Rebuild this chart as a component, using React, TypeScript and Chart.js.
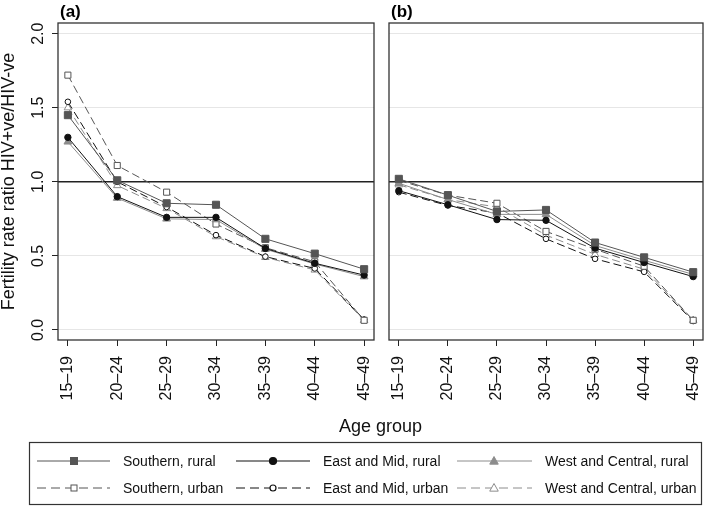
import React, { useEffect, useRef } from 'react';
import { Chart, registerables } from 'chart.js';

Chart.register(...registerables);

// ---------- data ----------
const ageGroups = ['15–19', '20–24', '25–29', '30–34', '35–39', '40–44', '45–49'];
const yTickValues = [0, 0.5, 1, 1.5, 2];
const referenceLine = 1;
const panelLabels = ['(a)', '(b)'];
const yAxisTitle = 'Fertility rate ratio HIV+ve/HIV-ve';
const xAxisTitle = 'Age group';

const seriesNames = [
  'Southern, rural',
  'East and Mid, rural',
  'West and Central, rural',
  'Southern, urban',
  'East and Mid, urban',
  'West and Central, urban',
];

// Panel (a)
const aSouthernRural = [1.45, 1.01, 0.855, 0.845, 0.615, 0.515, 0.41];
const aEastMidRural = [1.30, 0.90, 0.76, 0.76, 0.55, 0.45, 0.37];
const aWestCentralRural = [1.27, 0.89, 0.75, 0.745, 0.545, 0.445, 0.36];
const aSouthernUrban = [1.72, 1.11, 0.93, 0.715, 0.555, 0.46, 0.065];
const aEastMidUrban = [1.54, 1.0, 0.83, 0.64, 0.495, 0.415, 0.07];
const aWestCentralUrban = [1.5, 0.975, 0.82, 0.63, 0.49, 0.405, 0.065];

// Panel (b)
const bSouthernRural = [1.02, 0.91, 0.8, 0.81, 0.59, 0.49, 0.39];
const bEastMidRural = [0.94, 0.845, 0.745, 0.74, 0.552, 0.455, 0.36];
const bWestCentralRural = [0.99, 0.88, 0.78, 0.78, 0.57, 0.47, 0.375];
const bSouthernUrban = [1.01, 0.91, 0.855, 0.665, 0.545, 0.43, 0.065];
const bEastMidUrban = [0.93, 0.84, 0.79, 0.615, 0.48, 0.392, 0.06];
const bWestCentralUrban = [0.98, 0.88, 0.83, 0.64, 0.51, 0.41, 0.065];

const panelASeries = [aSouthernRural, aEastMidRural, aWestCentralRural, aSouthernUrban, aEastMidUrban, aWestCentralUrban];
const panelBSeries = [bSouthernRural, bEastMidRural, bWestCentralRural, bSouthernUrban, bEastMidUrban, bWestCentralUrban];

// ---------- styles ----------
const FONT = "'Liberation Sans', Arial, Helvetica, sans-serif";
const styles = [
  { color: '#555555', shape: 'rect', filled: true, dash: [] as number[], radius: 5 },
  { color: '#111111', shape: 'circle', filled: true, dash: [] as number[], radius: 3.2 },
  { color: '#8c8c8c', shape: 'triangle', filled: true, dash: [] as number[], radius: 4.5 },
  { color: '#555555', shape: 'rect', filled: false, dash: [8, 4], radius: 4.3 },
  { color: '#111111', shape: 'circle', filled: false, dash: [8, 4], radius: 2.8 },
  { color: '#8c8c8c', shape: 'triangle', filled: false, dash: [8, 4], radius: 4.3 },
];

function makeDatasets(series: number[][]) {
  return series.map((vals, i) => {
    const s = styles[i];
    return {
      label: seriesNames[i],
      data: vals.map((v, k) => ({ x: k, y: v })),
      borderColor: s.color,
      borderWidth: 1,
      borderDash: s.dash,
      pointStyle: s.shape,
      pointRadius: s.radius,
      pointBackgroundColor: s.filled ? s.color : '#ffffff',
      pointBorderColor: s.color,
      pointBorderWidth: 1,
      tension: 0,
      fill: false,
    };
  });
}

function panelPlugin(label: string) {
  return {
    id: 'panelDecor',
    beforeDatasetsDraw(chart: any) {
      const { ctx, chartArea, scales } = chart;
      const py = scales.y.getPixelForValue(referenceLine);
      ctx.save();
      ctx.strokeStyle = '#222222';
      ctx.lineWidth = 1.4;
      ctx.beginPath();
      ctx.moveTo(chartArea.left, py);
      ctx.lineTo(chartArea.right, py);
      ctx.stroke();
      ctx.restore();
    },
    afterDraw(chart: any) {
      const { ctx, chartArea } = chart;
      ctx.save();
      ctx.strokeStyle = '#333333';
      ctx.lineWidth = 1.3;
      ctx.strokeRect(chartArea.left, chartArea.top, chartArea.right - chartArea.left, chartArea.bottom - chartArea.top);
      ctx.fillStyle = '#000000';
      ctx.font = `bold 17px ${FONT}`;
      ctx.textAlign = 'left';
      ctx.textBaseline = 'alphabetic';
      ctx.fillText(label, chartArea.left + 2, 17);
      ctx.restore();
    },
  };
}

function makeConfig(series: number[][], label: string, showY: boolean, pad: { left: number; right: number }) {
  return {
    type: 'line' as const,
    data: { datasets: makeDatasets(series) },
    plugins: [panelPlugin(label)],
    options: {
      animation: false,
      responsive: false,
      layout: { padding: { top: 23, left: pad.left, right: pad.right, bottom: 0 } },
      plugins: { legend: { display: false }, tooltip: { enabled: false }, title: { display: false } },
      scales: {
        x: {
          type: 'linear',
          min: -0.2,
          max: 6.2,
          afterBuildTicks: (s: any) => {
            s.ticks = ageGroups.map((_, i) => ({ value: i }));
          },
          afterFit: (s: any) => {
            s.height = 80;
            s.paddingLeft = 0;
            s.paddingRight = 0;
          },
          border: { display: false },
          grid: { drawOnChartArea: false, drawTicks: true, tickLength: 6, tickColor: '#222222', tickWidth: 1 },
          ticks: {
            minRotation: 90,
            maxRotation: 90,
            padding: 10,
            color: '#111111',
            font: { family: FONT, size: 16 },
            callback: (_v: any, i: number) => ageGroups[i],
          },
        },
        y: {
          type: 'linear',
          min: -0.068,
          max: 2.072,
          afterBuildTicks: (s: any) => {
            s.ticks = yTickValues.map((v) => ({ value: v }));
          },
          afterFit: (s: any) => {
            s.width = showY ? 58 : 0;
            s.paddingTop = 0;
            s.paddingBottom = 0;
          },
          border: { display: false },
          grid: {
            drawOnChartArea: true,
            color: '#e6e6e6',
            lineWidth: 1,
            drawTicks: showY,
            tickLength: 6,
            tickColor: '#222222',
            tickWidth: 1,
          },
          title: {
            display: showY,
            text: yAxisTitle,
            color: '#111111',
            padding: 0,
            font: { family: FONT, size: 18, lineHeight: 1.05 },
          },
          ticks: {
            display: showY,
            minRotation: 90,
            maxRotation: 90,
            crossAlign: 'center',
            padding: 2,
            color: '#111111',
            font: { family: FONT, size: 16 },
            callback: (v: any) => Number(v).toFixed(1),
          },
        },
      },
    },
  };
}

function LegendMarker({ i, x, y }: { i: number; x: number; y: number }) {
  const s = styles[i];
  const fill = s.filled ? s.color : '#ffffff';
  if (s.shape === 'rect') {
    const h = s.filled ? 3.5 : 3;
    return <rect x={x - h} y={y - h} width={2 * h} height={2 * h} fill={fill} stroke={s.color} strokeWidth={1} />;
  }
  if (s.shape === 'circle') {
    const r = s.filled ? 3.5 : 3;
    return <circle cx={x} cy={y} r={r} fill={fill} stroke={s.color} strokeWidth={1.2} />;
  }
  const r = 4.5;
  const pts = `${x},${y - r} ${x + r * 0.95},${y + r * 0.7} ${x - r * 0.95},${y + r * 0.7}`;
  return <polygon points={pts} fill={fill} stroke={s.color} strokeWidth={1} />;
}

export default function App() {
  const refA = useRef<HTMLCanvasElement | null>(null);
  const refB = useRef<HTMLCanvasElement | null>(null);

  useEffect(() => {
    const a = new Chart(refA.current as HTMLCanvasElement, makeConfig(panelASeries, panelLabels[0], true, { left: 0, right: 5 }) as any);
    const b = new Chart(refB.current as HTMLCanvasElement, makeConfig(panelBSeries, panelLabels[1], false, { left: 9, right: 3 }) as any);
    return () => {
      a.destroy();
      b.destroy();
    };
  }, []);

  const colLine = [[37, 110], [236, 310], [457, 532]];
  const colMarker = [74, 273, 494];
  const colText = [123, 323, 545];
  const rowY = [461, 488];

  return (
    <div style={{ position: 'absolute', left: 0, top: 0, width: 709, height: 506, background: '#ffffff', overflow: 'hidden' }}>
      <canvas ref={refA} width={380} height={420} style={{ position: 'absolute', left: 0, top: 0, display: 'block' }} />
      <canvas ref={refB} width={329} height={420} style={{ position: 'absolute', left: 380, top: 0, display: 'block' }} />
      <svg width={709} height={506} style={{ position: 'absolute', left: 0, top: 0 }}>
        <text x={380.5} y={432} textAnchor="middle" fontSize={18} fontFamily={FONT} fill="#111111">
          {xAxisTitle}
        </text>
        <rect x={29.5} y={442.5} width={672} height={62} fill="none" stroke="#333333" strokeWidth={1.2} />
        {seriesNames.map((name, i) => {
          const col = i % 3;
          const row = Math.floor(i / 3);
          const y = rowY[row];
          const s = styles[i];
          return (
            <g key={name}>
              <line
                x1={colLine[col][0]}
                x2={colLine[col][1]}
                y1={y}
                y2={y}
                stroke={s.color}
                strokeWidth={1}
                strokeDasharray={s.dash.length ? '9 5' : undefined}
              />
              <LegendMarker i={i} x={colMarker[col]} y={y} />
              <text x={colText[col]} y={y + 5} fontSize={14} fontFamily={FONT} fill="#111111">
                {name}
              </text>
            </g>
          );
        })}
      </svg>
    </div>
  );
}
